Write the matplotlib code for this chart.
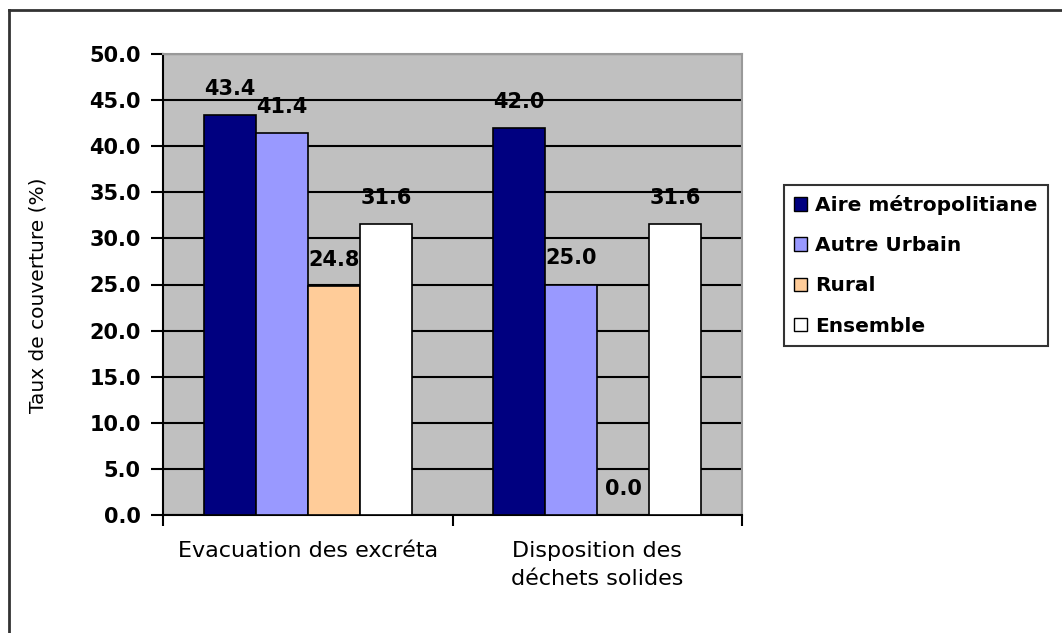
import numpy as np
import matplotlib
matplotlib.use("Agg")
import matplotlib.pyplot as plt
from matplotlib.patches import Patch
from matplotlib.lines import Line2D

plt.rcParams['font.family'] = ['DejaVu Sans']

# coverage rates by zone
categories = ["Evacuation des excréta", "Disposition des\ndéchets solides"]
series_names = ["Aire métropolitiane", "Autre Urbain", "Rural", "Ensemble"]
aire_metro = [43.4, 42.0]
autre_urbain = [41.4, 25.0]
rural = [24.8, 0.0]
ensemble = [31.6, 31.6]
colors = ["#000080", "#9999FF", "#FFCC99", "#FFFFFF"]

W, H = 1062, 633
fig = plt.figure(figsize=(W / 100, H / 100), dpi=100)

# outer frame (top and left edges only)
fig.add_artist(Line2D([9 / W, 1.0], [1 - 10 / H, 1 - 10 / H], color="#333333", lw=2))
fig.add_artist(Line2D([9 / W, 9 / W], [0, 1 - 10 / H], color="#333333", lw=2))

ax = fig.add_axes([163 / W, (H - 515) / H, (742 - 163) / W, (515 - 54) / H])
ax.set_facecolor("#C0C0C0")

x = np.arange(len(categories))
width = 0.18
all_series = [aire_metro, autre_urbain, rural, ensemble]
for i, (vals, col) in enumerate(zip(all_series, colors)):
    pos = x + (i - 1.5) * width
    ax.bar(pos, vals, width, color=col, edgecolor="black", linewidth=1.2, zorder=3)
    for p, v in zip(pos, vals):
        ax.annotate(f"{v:.1f}", (p, v), xytext=(0, 14.5), textcoords="offset points",
                    ha="center", va="baseline", fontsize=15, fontweight="bold", zorder=4)

ax.set_xlim(-0.5, 1.5)
ax.set_ylim(0, 50)
yt = np.arange(0, 50.1, 5)
ax.set_yticks(yt)
ax.set_yticklabels([f"{t:.1f}" for t in yt], fontsize=15, fontweight="bold")
ax.yaxis.grid(True, color="black", linewidth=1.5, zorder=1)
ax.set_axisbelow(True)

ax.set_xticks(x)
ax.set_xticklabels(categories, fontsize=16, linespacing=1.45)
ax.tick_params(axis="x", which="major", length=0, pad=19)
ax.set_xticks([-0.5, 0.5, 1.5], minor=True)
ax.tick_params(axis="x", which="minor", length=8, width=1.5, direction="out")
ax.tick_params(axis="y", length=9, width=1.5, direction="out", pad=7)

for s in ["top", "right"]:
    ax.spines[s].set_color("#999999")
    ax.spines[s].set_linewidth(1.5)
for s in ["left", "bottom"]:
    ax.spines[s].set_color("black")
    ax.spines[s].set_linewidth(1.5)

fig.text(38 / W, 1 - 295 / H, "Taux de couverture (%)", rotation=90,
         ha="center", va="center", fontsize=14.5)

handles = [Patch(facecolor=c, edgecolor="black", label=n) for c, n in zip(colors, series_names)]
leg = fig.legend(handles=handles, loc="upper left", bbox_to_anchor=(784 / W, 1 - 185 / H),
                 frameon=True, fancybox=False, edgecolor="black",
                 prop={"weight": "bold", "size": 14.5}, handlelength=0.65, handleheight=0.65,
                 handletextpad=0.4, labelspacing=1.05, borderpad=0.5, borderaxespad=0)
leg.get_frame().set_linewidth(1.5)

fig.savefig("out.png", dpi=100)
